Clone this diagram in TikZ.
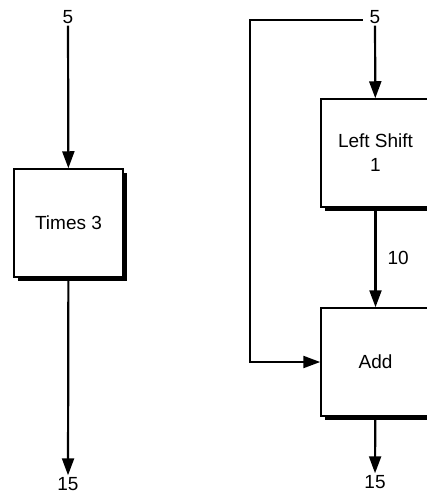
\documentclass[tikz,border=0pt]{standalone}
\usepackage{fontspec}
\setmainfont{Liberation Sans}
\usetikzlibrary{arrows.meta,shadows}

\tikzset{
  opbox/.style={draw,fill=white,line width=1.5pt,minimum width=109pt,minimum height=108pt,
    align=center,drop shadow={shadow xshift=4pt,shadow yshift=-4pt,fill=black,opacity=1}},
  val/.style={inner sep=1pt,font=\fontsize{19}{22}\selectfont},
}

\begin{document}
\begin{tikzpicture}[x=1pt,y=-1pt,>={Triangle[length=17pt,width=12pt]},line width=2.2pt,
  font=\fontsize{19}{24}\selectfont]
  \clip (0,0) rectangle (427,493);
  \useasboundingbox (0,0) rectangle (427,493);
  % times three
  \begin{scope}
    \node[val] (in1) at (68,17){5};
    \node[opbox] (times) at (68.5,223){Times 3};
    \node[val] (out1) at (68,484){15};
    \draw[->] (in1)--(times);
    \draw[->] (times)--(out1);
  \end{scope}
  % shift and add
  \begin{scope}
    \node[val] (in2) at (375,17){5};
    \node[opbox] (shift) at (375.5,153){Left Shift\\1};
    \node[opbox] (add) at (375.5,362){Add};
    \node[val] (out2) at (375,482){15};
    \draw[->] (in2)--(shift);
    \draw[->] (shift)--(add) node[midway,right=10pt,val]{10};
    \draw[->] ([xshift=-5pt,yshift=-3pt]in2.west)-|(250,362)--(add.west);
    \draw[->] (add)--(out2);
  \end{scope}
\end{tikzpicture}
\end{document}
